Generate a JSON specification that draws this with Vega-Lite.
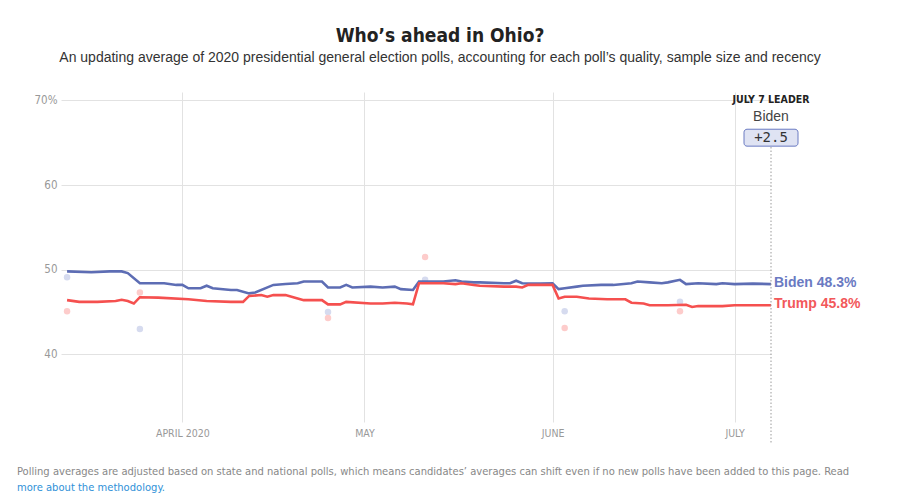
{
  "$schema": "https://vega.github.io/schema/vega-lite/v6.json",
  "padding": {"left": 17, "top": 27, "right": 0, "bottom": 0},
  "background": "white",
  "config": {"view": {"stroke": null}},
  "title": {
    "text": "Polling averages are adjusted based on state and national polls, which means candidates’ averages can shift even if no new polls have been added to this page. Read",
    "subtitle": "more about the methodology.",
    "orient": "bottom",
    "anchor": "start",
    "frame": "group",
    "dx": -44,
    "font": "DejaVu Sans Condensed, sans-serif",
    "fontSize": 11.1,
    "fontWeight": "normal",
    "color": "#888888",
    "subtitleFont": "DejaVu Sans Condensed, sans-serif",
    "subtitleFontSize": 11.1,
    "subtitleColor": "#3091d8",
    "subtitlePadding": 5,
    "offset": 21
  },
  "datasets": {
    "avg": [
      {"d": "2020-03-13", "c": "Biden", "v": 49.8},
      {"d": "2020-03-17", "c": "Biden", "v": 49.7},
      {"d": "2020-03-20", "c": "Biden", "v": 49.8},
      {"d": "2020-03-22", "c": "Biden", "v": 49.8},
      {"d": "2020-03-23", "c": "Biden", "v": 49.6},
      {"d": "2020-03-25", "c": "Biden", "v": 48.4},
      {"d": "2020-03-29", "c": "Biden", "v": 48.4},
      {"d": "2020-03-31", "c": "Biden", "v": 48.2},
      {"d": "2020-04-01", "c": "Biden", "v": 48.2},
      {"d": "2020-04-02", "c": "Biden", "v": 47.8},
      {"d": "2020-04-04", "c": "Biden", "v": 47.8},
      {"d": "2020-04-05", "c": "Biden", "v": 48.1},
      {"d": "2020-04-06", "c": "Biden", "v": 47.8},
      {"d": "2020-04-09", "c": "Biden", "v": 47.6},
      {"d": "2020-04-10", "c": "Biden", "v": 47.6},
      {"d": "2020-04-12", "c": "Biden", "v": 47.2},
      {"d": "2020-04-13", "c": "Biden", "v": 47.3},
      {"d": "2020-04-16", "c": "Biden", "v": 48.2},
      {"d": "2020-04-18", "c": "Biden", "v": 48.3},
      {"d": "2020-04-20", "c": "Biden", "v": 48.4},
      {"d": "2020-04-21", "c": "Biden", "v": 48.6},
      {"d": "2020-04-24", "c": "Biden", "v": 48.6},
      {"d": "2020-04-25", "c": "Biden", "v": 47.9},
      {"d": "2020-04-27", "c": "Biden", "v": 47.9},
      {"d": "2020-04-28", "c": "Biden", "v": 48.2},
      {"d": "2020-04-29", "c": "Biden", "v": 47.9},
      {"d": "2020-05-02", "c": "Biden", "v": 48.0},
      {"d": "2020-05-04", "c": "Biden", "v": 47.9},
      {"d": "2020-05-06", "c": "Biden", "v": 48.0},
      {"d": "2020-05-07", "c": "Biden", "v": 47.7},
      {"d": "2020-05-09", "c": "Biden", "v": 47.6},
      {"d": "2020-05-10", "c": "Biden", "v": 48.6},
      {"d": "2020-05-14", "c": "Biden", "v": 48.6},
      {"d": "2020-05-16", "c": "Biden", "v": 48.75},
      {"d": "2020-05-17", "c": "Biden", "v": 48.6},
      {"d": "2020-05-19", "c": "Biden", "v": 48.5},
      {"d": "2020-05-20", "c": "Biden", "v": 48.5},
      {"d": "2020-05-24", "c": "Biden", "v": 48.4},
      {"d": "2020-05-25", "c": "Biden", "v": 48.4},
      {"d": "2020-05-26", "c": "Biden", "v": 48.7},
      {"d": "2020-05-27", "c": "Biden", "v": 48.4},
      {"d": "2020-05-30", "c": "Biden", "v": 48.35},
      {"d": "2020-06-01", "c": "Biden", "v": 48.4},
      {"d": "2020-06-02", "c": "Biden", "v": 47.7},
      {"d": "2020-06-03", "c": "Biden", "v": 47.8},
      {"d": "2020-06-05", "c": "Biden", "v": 48.0},
      {"d": "2020-06-06", "c": "Biden", "v": 48.1},
      {"d": "2020-06-09", "c": "Biden", "v": 48.2},
      {"d": "2020-06-11", "c": "Biden", "v": 48.2},
      {"d": "2020-06-14", "c": "Biden", "v": 48.4},
      {"d": "2020-06-15", "c": "Biden", "v": 48.6},
      {"d": "2020-06-17", "c": "Biden", "v": 48.5},
      {"d": "2020-06-19", "c": "Biden", "v": 48.4},
      {"d": "2020-06-20", "c": "Biden", "v": 48.5},
      {"d": "2020-06-22", "c": "Biden", "v": 48.8},
      {"d": "2020-06-23", "c": "Biden", "v": 48.3},
      {"d": "2020-06-25", "c": "Biden", "v": 48.4},
      {"d": "2020-06-28", "c": "Biden", "v": 48.3},
      {"d": "2020-06-29", "c": "Biden", "v": 48.4},
      {"d": "2020-07-01", "c": "Biden", "v": 48.3},
      {"d": "2020-07-04", "c": "Biden", "v": 48.35},
      {"d": "2020-07-07", "c": "Biden", "v": 48.3},
      {"d": "2020-03-13", "c": "Trump", "v": 46.4},
      {"d": "2020-03-15", "c": "Trump", "v": 46.2},
      {"d": "2020-03-18", "c": "Trump", "v": 46.2},
      {"d": "2020-03-21", "c": "Trump", "v": 46.3},
      {"d": "2020-03-22", "c": "Trump", "v": 46.45},
      {"d": "2020-03-23", "c": "Trump", "v": 46.3},
      {"d": "2020-03-24", "c": "Trump", "v": 46.0},
      {"d": "2020-03-25", "c": "Trump", "v": 46.75},
      {"d": "2020-03-28", "c": "Trump", "v": 46.7},
      {"d": "2020-04-02", "c": "Trump", "v": 46.5},
      {"d": "2020-04-05", "c": "Trump", "v": 46.3},
      {"d": "2020-04-09", "c": "Trump", "v": 46.2},
      {"d": "2020-04-11", "c": "Trump", "v": 46.2},
      {"d": "2020-04-12", "c": "Trump", "v": 46.9},
      {"d": "2020-04-14", "c": "Trump", "v": 47.0},
      {"d": "2020-04-15", "c": "Trump", "v": 46.8},
      {"d": "2020-04-16", "c": "Trump", "v": 47.0},
      {"d": "2020-04-18", "c": "Trump", "v": 47.0},
      {"d": "2020-04-20", "c": "Trump", "v": 46.6},
      {"d": "2020-04-21", "c": "Trump", "v": 46.4},
      {"d": "2020-04-24", "c": "Trump", "v": 46.4},
      {"d": "2020-04-25", "c": "Trump", "v": 45.9},
      {"d": "2020-04-27", "c": "Trump", "v": 45.9},
      {"d": "2020-04-28", "c": "Trump", "v": 46.2},
      {"d": "2020-05-02", "c": "Trump", "v": 46.0},
      {"d": "2020-05-04", "c": "Trump", "v": 46.0},
      {"d": "2020-05-06", "c": "Trump", "v": 46.1},
      {"d": "2020-05-08", "c": "Trump", "v": 46.0},
      {"d": "2020-05-09", "c": "Trump", "v": 45.9},
      {"d": "2020-05-10", "c": "Trump", "v": 48.4},
      {"d": "2020-05-14", "c": "Trump", "v": 48.4},
      {"d": "2020-05-16", "c": "Trump", "v": 48.3},
      {"d": "2020-05-17", "c": "Trump", "v": 48.4},
      {"d": "2020-05-19", "c": "Trump", "v": 48.2},
      {"d": "2020-05-20", "c": "Trump", "v": 48.1},
      {"d": "2020-05-24", "c": "Trump", "v": 48.0},
      {"d": "2020-05-26", "c": "Trump", "v": 48.0},
      {"d": "2020-05-27", "c": "Trump", "v": 47.9},
      {"d": "2020-05-28", "c": "Trump", "v": 48.2},
      {"d": "2020-06-01", "c": "Trump", "v": 48.2},
      {"d": "2020-06-02", "c": "Trump", "v": 46.6},
      {"d": "2020-06-03", "c": "Trump", "v": 46.8},
      {"d": "2020-06-05", "c": "Trump", "v": 46.8},
      {"d": "2020-06-07", "c": "Trump", "v": 46.6},
      {"d": "2020-06-10", "c": "Trump", "v": 46.5},
      {"d": "2020-06-13", "c": "Trump", "v": 46.5},
      {"d": "2020-06-14", "c": "Trump", "v": 46.1},
      {"d": "2020-06-16", "c": "Trump", "v": 46.0},
      {"d": "2020-06-17", "c": "Trump", "v": 45.8},
      {"d": "2020-06-20", "c": "Trump", "v": 45.8},
      {"d": "2020-06-23", "c": "Trump", "v": 45.85},
      {"d": "2020-06-24", "c": "Trump", "v": 45.6},
      {"d": "2020-06-25", "c": "Trump", "v": 45.7},
      {"d": "2020-06-29", "c": "Trump", "v": 45.7},
      {"d": "2020-07-01", "c": "Trump", "v": 45.8},
      {"d": "2020-07-07", "c": "Trump", "v": 45.8}
    ],
    "polls": [
      {"d": "2020-03-13", "c": "Biden", "v": 49.1},
      {"d": "2020-03-13", "c": "Trump", "v": 45.1},
      {"d": "2020-03-25", "c": "Biden", "v": 43.0},
      {"d": "2020-03-25", "c": "Trump", "v": 47.3},
      {"d": "2020-04-25", "c": "Biden", "v": 45.0},
      {"d": "2020-04-25", "c": "Trump", "v": 44.3},
      {"d": "2020-05-11", "c": "Biden", "v": 48.8},
      {"d": "2020-05-11", "c": "Trump", "v": 51.5},
      {"d": "2020-06-03", "c": "Biden", "v": 45.1},
      {"d": "2020-06-03", "c": "Trump", "v": 43.1},
      {"d": "2020-06-22", "c": "Biden", "v": 46.2},
      {"d": "2020-06-22", "c": "Trump", "v": 45.1}
    ],
    "ends": [
      {"d": "2020-07-07", "c": "Biden", "v": 48.3, "label": "Biden 48.3%"},
      {"d": "2020-07-07", "c": "Trump", "v": 45.8, "label": "Trump 45.8%"}
    ],
    "leader": [
      {"d": "2020-07-07", "head": "JULY 7 LEADER", "name": "Biden", "margin": "+2.5"}
    ]
  },
  "vconcat": [
    {
      "width": 710,
      "height": 330,
      "title": {
        "text": "Who’s ahead in Ohio?",
        "subtitle": "An updating average of 2020 presidential general election polls, accounting for each poll’s quality, sample size and recency",
        "anchor": "middle",
        "frame": "group",
        "dx": 24,
        "font": "DejaVu Sans Condensed, sans-serif",
        "fontSize": 19,
        "fontWeight": "bold",
        "color": "#222222",
        "subtitleFont": "Liberation Sans, sans-serif",
        "subtitleFontSize": 14,
        "subtitleColor": "#333333",
        "subtitlePadding": 5,
        "offset": 27
      },
      "layer": [
        {
          "data": {"name": "polls"},
          "mark": {"type": "point", "filled": true, "size": 42, "opacity": 1},
          "encoding": {
            "x": {
              "field": "d", "type": "temporal",
              "scale": {"domain": [{"year": 2020, "month": 3, "date": 12}, {"year": 2020, "month": 7, "date": 7}]},
              "axis": {
                "title": null,
                "values": [{"year": 2020, "month": 4, "date": 1}, {"year": 2020, "month": 5, "date": 1}, {"year": 2020, "month": 6, "date": 1}, {"year": 2020, "month": 7, "date": 1}],
                "labelExpr": "month(datum.value) == 3 ? 'APRIL 2020' : upper(timeFormat(datum.value, '%B'))",
                "grid": true, "gridColor": "#e2e2e2", "gridWidth": 1,
                "domain": false, "ticks": false,
                "labelFont": "DejaVu Sans Condensed, sans-serif",
                "labelFontSize": 10.5, "labelColor": "#999999", "labelPadding": 6
              }
            },
            "y": {
              "field": "v", "type": "quantitative",
              "scale": {"domain": [32, 71], "nice": false, "zero": false},
              "axis": {
                "title": null,
                "values": [40, 50, 60, 70],
                "labelExpr": "datum.value == 70 ? '70%' : datum.label",
                "grid": true, "gridColor": "#e2e2e2", "gridWidth": 1,
                "domain": false, "ticks": false,
                "labelFont": "DejaVu Sans Condensed, sans-serif",
                "labelFontSize": 11.5, "labelColor": "#999999", "labelPadding": 4,
                "minExtent": 44, "maxExtent": 44
              }
            },
            "fill": {"field": "c", "type": "nominal", "scale": {"domain": ["Biden", "Trump"], "range": ["#d6dbef", "#fdcccb"]}, "legend": null}
          }
        },
        {
          "data": {"name": "avg"},
          "mark": {"type": "line", "strokeWidth": 2.6, "interpolate": "linear"},
          "encoding": {
            "x": {"field": "d", "type": "temporal"},
            "y": {"field": "v", "type": "quantitative"},
            "stroke": {"field": "c", "type": "nominal", "scale": {"domain": ["Biden", "Trump"], "range": ["#5d6db4", "#f5504f"]}, "legend": null}
          }
        },
        {
          "data": {"name": "leader"},
          "mark": {"type": "rule", "strokeDash": [1.5, 2], "color": "#9a9a9a", "strokeWidth": 1},
          "encoding": {
            "x": {"field": "d", "type": "temporal"},
            "y": {"datum": 64.5},
            "y2": {"datum": 29.4}
          }
        },
        {
          "data": {"name": "ends"},
          "mark": {"type": "text", "align": "left", "baseline": "middle", "dx": 3, "dy": -1, "font": "Liberation Sans, sans-serif", "fontSize": 14, "fontWeight": "bold"},
          "encoding": {
            "x": {"field": "d", "type": "temporal"},
            "y": {"field": "v", "type": "quantitative"},
            "text": {"field": "label"},
            "color": {"condition": {"test": "datum.c == 'Biden'", "value": "#6a7ac2"}, "value": "#f2585a"}
          }
        },
        {
          "data": {"name": "leader"},
          "mark": {"type": "rect", "xOffset": -27, "x2Offset": 27, "cornerRadius": 3, "fill": "#dfe3f3", "stroke": "#6a7ac2", "strokeWidth": 1},
          "encoding": {
            "x": {"field": "d", "type": "temporal"},
            "x2": {"field": "d"},
            "y": {"datum": 66.6},
            "y2": {"datum": 64.6}
          }
        },
        {
          "data": {"name": "leader"},
          "mark": {"type": "text", "align": "center", "baseline": "middle", "font": "DejaVu Sans Mono, monospace", "fontSize": 14, "color": "#333333"},
          "encoding": {
            "x": {"field": "d", "type": "temporal"},
            "y": {"datum": 65.6},
            "text": {"field": "margin"}
          }
        },
        {
          "data": {"name": "leader"},
          "mark": {"type": "text", "align": "center", "baseline": "middle", "font": "Liberation Sans, sans-serif", "fontSize": 14, "color": "#444444"},
          "encoding": {
            "x": {"field": "d", "type": "temporal"},
            "y": {"datum": 68.0},
            "text": {"field": "name"}
          }
        },
        {
          "data": {"name": "leader"},
          "mark": {"type": "text", "align": "center", "baseline": "middle", "font": "DejaVu Sans Condensed, sans-serif", "fontSize": 10.5, "fontWeight": "bold", "color": "#222222"},
          "encoding": {
            "x": {"field": "d", "type": "temporal"},
            "y": {"datum": 70.05},
            "text": {"field": "head"}
          }
        }
      ]
    }
  ]
}
